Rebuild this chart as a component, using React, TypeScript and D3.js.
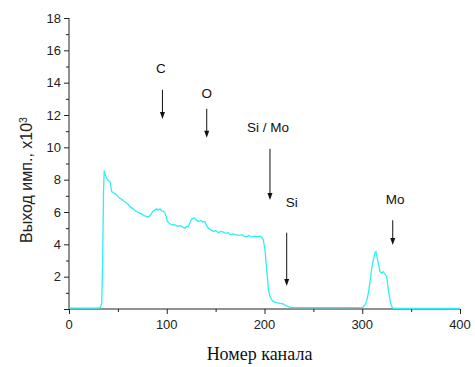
import React, { useEffect, useRef } from 'react'
import * as d3 from 'd3'

// spectrum (channel, counts x10^3)
const channels = [
  0, 10, 20, 30, 32, 33.5, 34.5, 35.3, 36, 37, 38.5, 40, 42, 43, 43.7, 45, 46.5, 48.8, 50, 52, 54, 56, 59, 61, 63,
  66, 69, 71, 74, 77, 79.5, 82, 84, 85.6, 87.5, 89.7, 91, 93, 94.8, 96.5, 98.2, 99.5, 100.6, 102.5, 105, 108, 111,
  113.6, 116, 118.7, 120.5, 122, 123.5, 125.5, 127, 129, 130.5, 132.3, 135, 137, 139, 140.5, 142.5, 145, 147.6,
  150, 153, 155, 157.9, 160, 163, 165, 168, 171, 174, 177, 179, 181.8, 184, 187, 190, 193.7, 195.4, 197, 198.8,
  200.5, 201.4, 202.3, 203.2, 204, 205.5, 207.4, 209, 212.5, 215.9, 219, 221.5, 224.3, 226.5, 229.5, 240, 260, 280,
  299.4, 301, 302.8, 304.5, 306.2, 308, 309.7, 311.5, 313, 314, 315.2, 316.4, 318.2, 319.9, 321.5, 323.3, 325,
  325.8, 326.7, 328, 329, 330.5, 331.7, 340, 360, 380, 400,
]
const counts = [
  0.05, 0.05, 0.05, 0.05, 0.08, 0.35, 3.2, 7.2, 8.56, 8.3, 8.1, 7.95, 7.88, 7.5, 7.26, 7.2, 7.15, 7.06, 6.95, 6.85,
  6.78, 6.68, 6.54, 6.45, 6.3, 6.18, 6.03, 5.98, 5.88, 5.78, 5.72, 5.72, 5.85, 6.03, 6.1, 6.19, 6.12, 6.2, 6.07, 6.05,
  5.93, 5.7, 5.41, 5.3, 5.2, 5.22, 5.12, 5.16, 5.08, 5.0, 5.12, 5.1, 5.3, 5.55, 5.62, 5.62, 5.48, 5.41, 5.48, 5.38,
  5.41, 5.2, 5.0, 4.9, 4.79, 4.85, 4.72, 4.8, 4.75, 4.68, 4.72, 4.6, 4.64, 4.58, 4.55, 4.6, 4.5, 4.48, 4.55, 4.45,
  4.5, 4.48, 4.52, 4.45, 4.27, 3.65, 3.0, 2.4, 1.8, 1.18, 0.8, 0.56, 0.45, 0.39, 0.35, 0.31, 0.22, 0.14, 0.1, 0.08,
  0.08, 0.08, 0.09, 0.1, 0.12, 0.25, 0.5, 0.97, 1.7, 2.52, 3.1, 3.49, 3.55, 3.2, 2.83, 2.31, 2.21, 2.31, 2.15, 2.0,
  1.6, 1.18, 0.7, 0.35, 0.12, 0.04, 0.03, 0.03, 0.03, 0.03,
]

// element markers: label, label position, arrow (x, from y, to y)
const markerLabels = ['C', 'O', 'Si / Mo', 'Si', 'Mo']
const labelX = [93.9, 140.9, 203.6, 227.8, 333.6]
const labelY = [14.92, 13.37, 11.27, 6.6, 6.79]
const arrowX = [95.6, 140.9, 205.6, 222.7, 331.2]
const arrowTop = [13.56, 12.38, 9.91, 4.72, 5.49]
const arrowBottom = [11.76, 10.59, 6.75, 1.42, 3.96]

const xTicks = [0, 100, 200, 300, 400]
const yTicks = [2, 4, 6, 8, 10, 12, 14, 16, 18]

const W = 475
const H = 367

const App = () => {
  const svgRef = useRef<SVGSVGElement>(null)

  useEffect(() => {
    if (!svgRef.current) return
    const svg = d3.select(svgRef.current)
    svg.selectAll('*').remove()

    const left = 69, right = 460, top = 18, bottom = 309
    const x = d3.scaleLinear().domain([0, 400]).range([left, right])
    const y = d3.scaleLinear().domain([0, 18]).range([bottom, top])
    const font = 'Liberation Sans, Arial, sans-serif'

    // axes
    const xAxis = svg.append('g').attr('transform', `translate(0,${bottom})`)
    xAxis.call(d3.axisBottom(x).tickValues(d3.range(0, 401, 50)).tickSize(3).tickFormat(() => ''))
    xAxis.call(g => g.selectAll('.tick').filter((d: any) => d % 100 === 0).select('line').attr('y2', 5))
    xAxis.selectAll('.domain').attr('d', `M${left},0H${right}`)
    xTicks.forEach(t => {
      svg.append('text').attr('x', x(t)).attr('y', bottom + 20)
        .attr('text-anchor', 'middle').style('font-family', font).style('font-size', '13px')
        .style('fill', '#222').text(t)
    })

    const yAxis = svg.append('g').attr('transform', `translate(${left},0)`)
    yAxis.call(d3.axisLeft(y).tickValues(d3.range(0, 19, 1)).tickSize(3).tickFormat(() => ''))
    yAxis.call(g => g.selectAll('.tick').filter((d: any) => d % 2 === 0).select('line').attr('x2', -5))
    yAxis.selectAll('.domain').attr('d', `M0,${bottom}V${top}`)
    yTicks.forEach(t => {
      svg.append('text').attr('x', left - 8).attr('y', y(t)).attr('dy', '0.36em')
        .attr('text-anchor', 'end').style('font-family', font).style('font-size', '13px')
        .style('fill', '#222').text(t)
    })
    svg.selectAll('.domain, .tick line').attr('stroke', '#222').attr('stroke-width', 1)

    // titles
    const yt = svg.append('text').attr('transform', `translate(32,180) rotate(-90)`)
      .attr('text-anchor', 'middle').style('font-family', font).style('font-size', '16px').style('fill', '#222')
    yt.append('tspan').text('Выход имп., x10')
    yt.append('tspan').attr('dy', '-0.5em').style('font-size', '10.5px').text('3')

    svg.append('text').attr('x', (left + right) / 2 - 5).attr('y', 360)
      .attr('text-anchor', 'middle').style('font-family', 'Liberation Serif, Times New Roman, serif')
      .style('font-size', '18px').style('fill', '#111').text('Номер канала')

    // spectrum line
    const line = d3.line<number>().x((_, i) => x(channels[i])).y(d => y(d))
    svg.append('path').datum(counts).attr('d', line)
      .attr('fill', 'none').attr('stroke', '#2cf0f4').attr('stroke-width', 1.3)

    // markers
    markerLabels.forEach((lbl, i) => {
      svg.append('text').attr('x', x(labelX[i])).attr('y', y(labelY[i])).attr('dy', '0.36em')
        .attr('text-anchor', 'middle').style('font-family', font).style('font-size', '13.5px')
        .style('fill', '#111').text(lbl)
      const ax = x(arrowX[i]), y0 = y(arrowTop[i]), y1 = y(arrowBottom[i])
      svg.append('line').attr('x1', ax).attr('x2', ax).attr('y1', y0).attr('y2', y1 - 5)
        .attr('stroke', '#111').attr('stroke-width', 1)
      svg.append('path').attr('d', `M${ax - 2.5},${y1 - 7}L${ax + 2.5},${y1 - 7}L${ax},${y1}Z`).attr('fill', '#111')
    })
  }, [])

  return (
    <svg ref={svgRef} width={W} height={H}
      style={{ position: 'absolute', left: 0, top: 0, background: '#fff' }} />
  )
}

export default App
